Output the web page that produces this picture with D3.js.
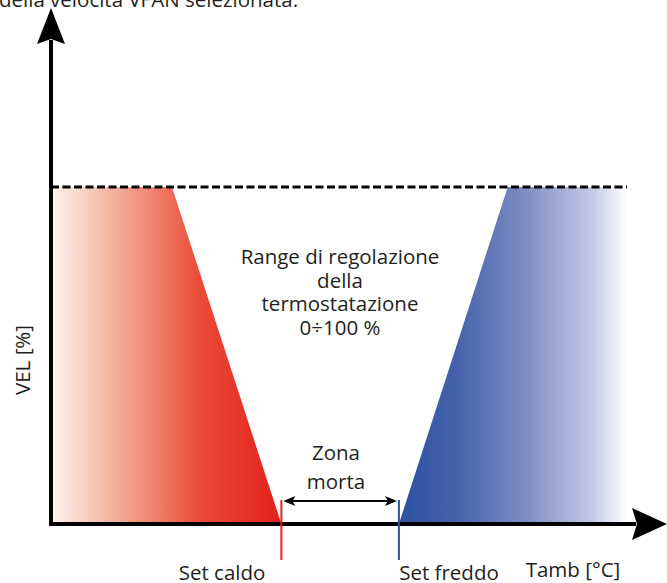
<!DOCTYPE html>
<html>
<head>
<meta charset="utf-8">
<script src="https://cdn.jsdelivr.net/npm/d3@7"></script>
<style>
  html, body { margin: 0; padding: 0; background: #fff; overflow: hidden; }
  text { font-family: "Open Sans", "Noto Sans", sans-serif; fill: #231f20; }
</style>
</head>
<body>
<div id="chart"></div>
<script>
// chart values (x = Tamb on a 0..100 scale, y = VEL %)
var heatX = [0, 21, 40];        // heating ramp: start, end of 100% plateau, Set caldo
var heatY = [100, 100, 0];
var coolX = [60.4, 79.3, 100];  // cooling ramp: Set freddo, start of plateau, end
var coolY = [0, 100, 100];
var setPoints = [40, 60.4];
var setLabels = ["Set caldo", "Set freddo"];
var rangeLines = ["Range di regolazione", "della", "termostatazione", "0÷100 %"];
var deadLines = ["Zona", "morta"];
var topNote = "della velocità VFAN selezionata.";

var svgWidth = 667;
var svgHeight = 583;

var svg = d3.select("#chart").append("svg").attr("width", svgWidth).attr("height", svgHeight);
var defs = svg.append("defs");

var xScale = d3.scaleLinear().domain([0, 100]).range([51, 627]);
var yScale = d3.scaleLinear().domain([0, 100]).range([524, 187]);

// gradients
var gRed = defs.append("linearGradient").attr("id", "gRed")
    .attr("gradientUnits", "userSpaceOnUse")
    .attr("x1", xScale(0)).attr("x2", xScale(40)).attr("y1", 0).attr("y2", 0);
[[0, "#fff4f0"], [0.3, "#f3aa94"], [0.65, "#e94a36"], [1, "#e3211d"]].forEach(function(s) {
    gRed.append("stop").attr("offset", s[0]).attr("stop-color", s[1]);
});

var gBlue = defs.append("linearGradient").attr("id", "gBlue")
    .attr("gradientUnits", "userSpaceOnUse")
    .attr("x1", xScale(60.4)).attr("x2", xScale(100)).attr("y1", 0).attr("y2", 0);
[[0, "#2d52a0"], [0.25, "#4462ab"], [0.55, "#7e8cc3"], [0.85, "#c4cae5"], [1, "#ffffff"]].forEach(function(s) {
    gBlue.append("stop").attr("offset", s[0]).attr("stop-color", s[1]);
});

var heatPts = heatX.map((x, i) => [xScale(x), yScale(heatY[i])]);
heatPts.push([xScale(heatX[0]), yScale(0)]);
var coolPts = coolX.map((x, i) => [xScale(x), yScale(coolY[i])]);
coolPts.push([xScale(coolX[2]), yScale(0)]);

svg.append("polygon").attr("points", heatPts.map(p => p.join(",")).join(" ")).attr("fill", "url(#gRed)");
svg.append("polygon").attr("points", coolPts.map(p => p.join(",")).join(" ")).attr("fill", "url(#gBlue)");

// dashed 100% line
svg.append("line")
    .attr("x1", xScale(0)).attr("x2", xScale(100))
    .attr("y1", yScale(100)).attr("y2", yScale(100))
    .attr("stroke", "#000").attr("stroke-width", 3).attr("stroke-dasharray", "8,3.5");

// axes with arrowheads
svg.append("line").attr("x1", xScale(0)).attr("x2", xScale(0)).attr("y1", yScale(0) + 2).attr("y2", 40)
    .attr("stroke", "#000").attr("stroke-width", 4);
svg.append("polygon").attr("points", [[51, 8], [37, 44], [51, 39], [65, 44]].map(p => p.join(",")).join(" ")).attr("fill", "#000");

svg.append("line").attr("x1", xScale(0) - 2).attr("x2", 636).attr("y1", yScale(0)).attr("y2", yScale(0))
    .attr("stroke", "#000").attr("stroke-width", 4);
svg.append("polygon").attr("points", [[667, 524], [632, 508], [637, 524], [632, 540]].map(p => p.join(",")).join(" ")).attr("fill", "#000");

// set point markers
var setColors = ["#e3211d", "#2d52a0"];
setPoints.forEach(function(s, i) {
    svg.append("line").attr("x1", xScale(s)).attr("x2", xScale(s))
        .attr("y1", 500).attr("y2", 560)
        .attr("stroke", setColors[i]).attr("stroke-width", 2);
});

// dead zone double arrow
var ax1 = xScale(setPoints[0]) + 2, ax2 = xScale(setPoints[1]) - 2, ay = 501;
svg.append("line").attr("x1", ax1 + 6).attr("x2", ax2 - 6).attr("y1", ay).attr("y2", ay)
    .attr("stroke", "#000").attr("stroke-width", 2);
svg.append("polygon").attr("points", [[ax1, ay], [ax1 + 12, ay - 5], [ax1 + 9, ay], [ax1 + 12, ay + 5]].map(p => p.join(",")).join(" ")).attr("fill", "#000");
svg.append("polygon").attr("points", [[ax2, ay], [ax2 - 12, ay - 5], [ax2 - 9, ay], [ax2 - 12, ay + 5]].map(p => p.join(",")).join(" ")).attr("fill", "#000");

// texts
var fs = 20.5;
svg.append("text").attr("x", -1).attr("y", 7).attr("font-size", fs).text(topNote);

svg.append("g").selectAll("text").data(rangeLines).enter().append("text")
    .attr("x", 340).attr("y", (d, i) => 264 + i * 23.5)
    .attr("text-anchor", "middle").attr("font-size", fs).text(d => d);

svg.append("g").selectAll("text").data(deadLines).enter().append("text")
    .attr("x", 336).attr("y", (d, i) => 460 + i * 29)
    .attr("text-anchor", "middle").attr("font-size", fs).text(d => d);

svg.append("g").selectAll("text").data(setLabels).enter().append("text")
    .attr("x", (d, i) => i === 0 ? 222 : 449).attr("y", 580)
    .attr("text-anchor", "middle").attr("font-size", fs).text(d => d);

svg.append("text").attr("x", 573).attr("y", 577).attr("text-anchor", "middle").attr("font-size", fs).text("Tamb [°C]");

svg.append("text").attr("transform", "translate(30,360) rotate(-90)")
    .attr("text-anchor", "middle").attr("font-size", fs).text("VEL [%]");
</script>
</body>
</html>
